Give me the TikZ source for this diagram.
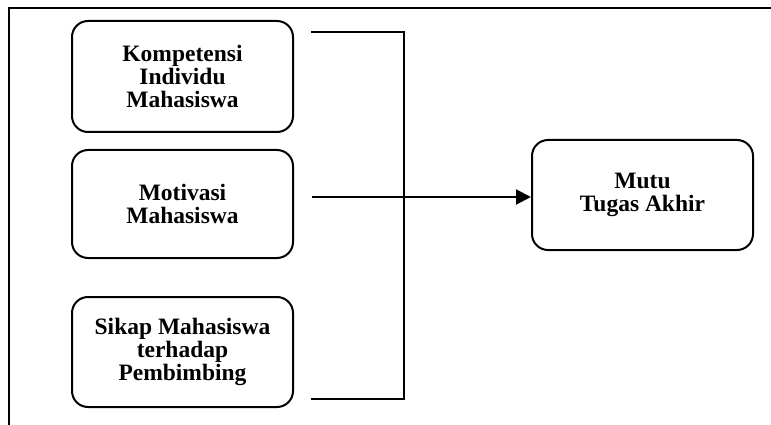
\documentclass[tikz,border=0pt]{standalone}
\usepackage{fontspec}
\setmainfont{Liberation Serif}
\usetikzlibrary{arrows.meta}
\begin{document}
\begin{tikzpicture}[x=1pt,y=-1pt,
  line width=2pt,
  varbox/.style={draw,rounded corners=16pt,line width=2pt,align=center,
    font=\fontsize{23.5}{23}\selectfont\bfseries,inner sep=0pt},
  link/.style={line width=2pt},
  arr/.style={line width=2pt,-{Triangle[length=15pt,width=15pt]}}]
\useasboundingbox (0,0) rectangle (771,425);
% frame
\coordinate (fTR) at (771,8);
\coordinate (fTL) at (9,8);
\coordinate (fBL) at (9,425);
\draw[line width=2.2pt] (fTR) -- (fTL) -- (fBL);
% boxes
\node[varbox,minimum width=221pt,minimum height=111pt] (k) at (182.5,76.5) {Kompetensi\\Individu\\Mahasiswa};
\node[varbox,minimum width=221pt,minimum height=108pt] (m) at (182.5,204) {Motivasi\\Mahasiswa};
\node[varbox,minimum width=221pt,minimum height=110pt] (s) at (182.5,352) {Sikap Mahasiswa\\terhadap\\Pembimbing};
\node[varbox,minimum width=221pt,minimum height=110pt] (t) at (642.5,195) {Mutu\\Tugas Akhir};
% bracket
\coordinate (bT1) at (311,32);
\coordinate (bT2) at (404,32);
\coordinate (bB2) at (404,399);
\coordinate (bB1) at (311,399);
\draw[link] (bT1) -- (bT2) -- (bB2) -- (bB1);
% arrow
\coordinate (aS) at (312,197);
\draw[arr] (aS) -- (aS -| t.west);
\end{tikzpicture}
\end{document}
